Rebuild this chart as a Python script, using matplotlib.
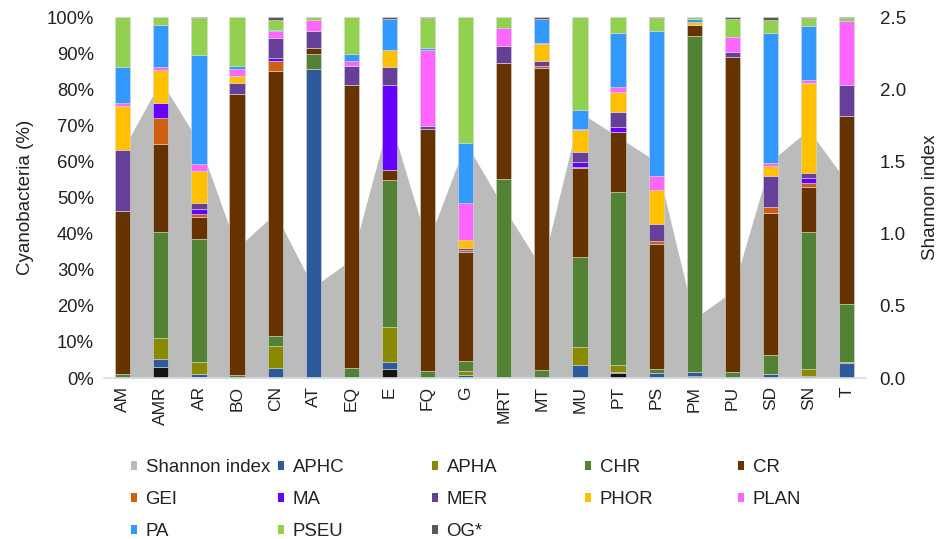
import numpy as np
import matplotlib
matplotlib.use('Agg')
import matplotlib.pyplot as plt
from matplotlib.patches import Patch

plt.rcParams['font.family'] = ['Liberation Sans', 'DejaVu Sans']

sites = ['AM', 'AMR', 'AR', 'BO', 'CN', 'AT', 'EQ', 'E', 'FQ', 'G',
         'MRT', 'MT', 'MU', 'PT', 'PS', 'PM', 'PU', 'SD', 'SN', 'T']

# shannon index per site (right axis)
shannon = [1.58, 2.06, 1.63, 0.90, 1.14, 0.63, 0.82, 1.80, 0.93, 1.63,
           1.18, 0.76, 1.84, 1.67, 1.50, 0.41, 0.60, 1.50, 1.72, 1.36]

# relative abundance (%) per group, stacked bottom -> top
unk = [0, 3.1, 0.4, 0, 0, 0, 0, 2.5, 0, 0, 0, 0, 0, 1.3, 0, 0.6, 0, 0, 0, 0]
aphc = [0, 2.1, 0.7, 0, 2.7, 85.6, 0, 2.0, 0, 0.8, 0, 0, 3.6, 0.5, 1.5, 1.2, 0, 1.1, 0.6, 4.1]
apha = [0, 5.8, 3.4, 0, 6.3, 0, 0, 9.7, 0, 1.1, 0, 0, 4.9, 1.8, 0, 0, 0, 0, 1.8, 0.4]
chr_ = [1.0, 29.4, 34.0, 0.7, 2.6, 4.2, 2.9, 40.6, 1.9, 2.9, 55.1, 2.2, 24.9, 47.8, 0.9, 92.9, 1.8, 5.3, 38.1, 16.0]
cr = [45.3, 24.3, 6.2, 77.9, 73.4, 1.5, 78.4, 2.8, 67.0, 30.0, 32.2, 83.8, 24.7, 16.8, 34.7, 3.1, 87.0, 39.2, 12.5, 52.1]
gei = [0, 7.2, 0.6, 0, 2.8, 0, 0, 0, 0, 0.6, 0, 0.4, 0.4, 0, 0.9, 0, 0, 1.9, 1.1, 0]
ma = [0, 4.4, 1.4, 0, 0.8, 0, 0, 23.6, 0, 0, 0, 0, 1.4, 1.4, 0, 0, 0, 0, 1.2, 0]
mer = [16.9, 0, 1.9, 3.0, 5.7, 4.9, 5.2, 4.9, 0.9, 0.5, 4.8, 1.5, 2.6, 4.0, 4.7, 0, 1.6, 8.5, 1.6, 8.6]
phor = [12.2, 9.0, 8.8, 2.1, 0, 0, 0, 4.8, 0, 2.3, 0, 4.5, 6.2, 5.7, 9.4, 0.9, 0, 2.7, 24.7, 0]
plan = [0.7, 0.9, 1.8, 1.8, 1.7, 3.0, 1.3, 0, 21.2, 10.4, 5.0, 0.5, 0.3, 1.2, 3.9, 0, 4.2, 0.9, 0.9, 17.6]
pa = [10.0, 11.6, 30.3, 0.9, 0.3, 0, 1.9, 8.5, 0.5, 16.4, 0, 6.5, 5.2, 15.0, 40.2, 0.7, 0, 35.9, 15.0, 0]
pseu = [13.9, 2.2, 10.1, 13.6, 2.8, 0.8, 10.3, 0, 8.2, 35.0, 2.9, 0, 25.8, 4.5, 3.4, 0.6, 4.8, 3.8, 2.2, 0.9]
og = [0, 0, 0.4, 0, 0.9, 0, 0, 0.6, 0.3, 0, 0, 0.6, 0, 0, 0.4, 0, 0.6, 0.7, 0.3, 0.3]

series = [
    (None, unk, '#141414'),
    ('APHC', aphc, '#2E5A9C'),
    ('APHA', apha, '#8A8A00'),
    ('CHR', chr_, '#548235'),
    ('CR', cr, '#663300'),
    ('GEI', gei, '#CC5F12'),
    ('MA', ma, '#6600FF'),
    ('MER', mer, '#663F99'),
    ('PHOR', phor, '#FFC000'),
    ('PLAN', plan, '#FF66FF'),
    ('PA', pa, '#3399FF'),
    ('PSEU', pseu, '#92D050'),
    ('OG*', og, '#595959'),
]
shannon_col = '#BBBBBB'
txt = '#222222'

fig = plt.figure(figsize=(9.43, 5.39), dpi=100)
ax = fig.add_axes([0.110, 0.2987, 0.808, 0.6697])
ax2 = ax.twinx()

x = np.arange(len(sites))

# shannon area behind the bars
ax2.fill_between(x, 0, shannon, color=shannon_col, lw=0)
ax2.set_ylim(0, 2.5)
ax2.set_yticks([0, 0.5, 1.0, 1.5, 2.0, 2.5])
ax2.set_yticklabels(['0.0', '0.5', '1.0', '1.5', '2.0', '2.5'])
ax2.tick_params(axis='y', length=0, pad=10, labelsize=13.5, colors=txt)
ax2.set_ylabel('Shannon index', fontsize=13.5, labelpad=12, color=txt)
ax.set_zorder(ax2.get_zorder() + 1)
ax.patch.set_visible(False)

bottom = np.zeros(len(sites))
handles = {}
for name, vals, col in series:
    vals = np.array(vals)
    ax.bar(x, vals, 0.4, bottom=bottom, color=col, edgecolor='#d8d8d8', linewidth=0.4)
    bottom += vals
    if name:
        handles[name] = Patch(facecolor=col, edgecolor='none')
handles['Shannon index'] = Patch(facecolor=shannon_col, edgecolor='none')

ax.set_xlim(-0.5, len(sites) - 0.5)
ax.set_ylim(0, 100)
ax.set_yticks(np.arange(0, 101, 10))
ax.set_yticklabels([f'{v}%' for v in range(0, 101, 10)])
ax.set_xticks(x)
ax.set_xticklabels(sites, rotation=90)
ax.tick_params(axis='y', length=0, pad=7, labelsize=13.3, colors=txt)
ax.tick_params(axis='x', length=0, pad=6, labelsize=12.5, colors=txt)
ax.set_ylabel('Cyanobacteria (%)', fontsize=13.5, labelpad=9, color=txt)

for a in (ax, ax2):
    for s in ('top', 'left', 'right', 'bottom'):
        a.spines[s].set_visible(False)
ax.spines['bottom'].set_visible(True)
ax.spines['bottom'].set_color('#D5DCE4')
ax.spines['bottom'].set_linewidth(1.2)

# legend laid out row by row, one legend per column
cols = [['Shannon index', 'GEI', 'PA'],
        ['APHC', 'MA', 'PSEU'],
        ['APHA', 'MER', 'OG*'],
        ['CHR', 'PHOR'],
        ['CR', 'PLAN']]
col_x = [131, 278, 432, 585, 738]
for names, px in zip(cols, col_x):
    fig.legend([handles[n] for n in names], names,
               loc='upper left', bbox_to_anchor=(px / 943, 1 - 459 / 539),
               frameon=False, fontsize=13.4, handlelength=0.33, handleheight=0.36,
               handletextpad=0.45, labelspacing=0.8, borderpad=0, borderaxespad=0,
               labelcolor=txt)

fig.savefig('out.png', dpi=100)
